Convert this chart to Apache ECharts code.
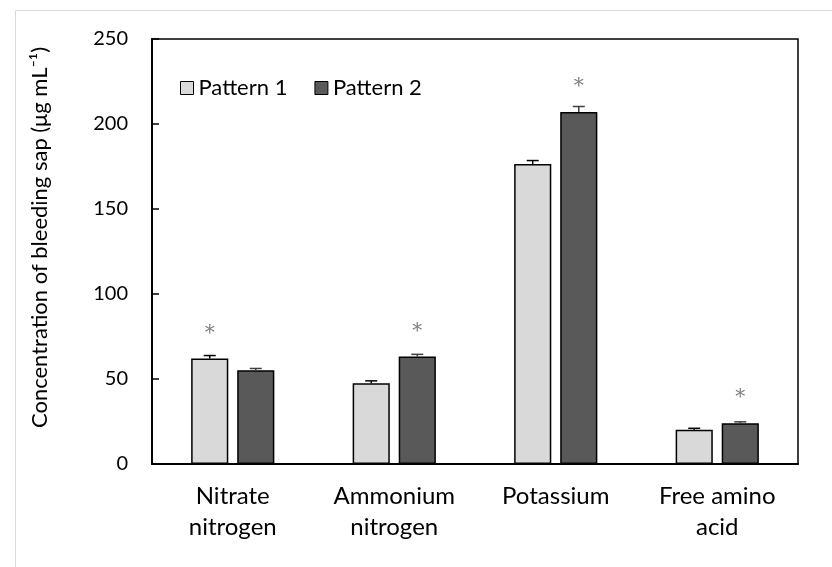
<!DOCTYPE html>
<html><head><meta charset="utf-8">
<script src="https://cdn.jsdelivr.net/npm/echarts@6/dist/echarts.min.js"></script>
<style>html,body{margin:0;padding:0;background:#fff}#c{width:832px;height:567px}</style>
</head><body><div id="c"></div>
<script>
const categories = ['Nitrate\nnitrogen', 'Ammonium\nnitrogen', 'Potassium', 'Free amino\nacid'];
const seriesNames = ['Pattern 1', 'Pattern 2'];
const pattern1 = [62, 47.5, 176.5, 20.2];
const pattern2 = [55.2, 63.2, 207, 24];
const pattern1Err = [1.8, 1.4, 2.0, 0.8];
const pattern2Err = [1.0, 1.3, 3.3, 0.8];
const pattern1Sig = [true, false, false, false];
const pattern2Sig = [false, true, true, true];
const yTicks = {min: 0, max: 250, interval: 50};

const FONT = 'Lato';
const BAR_FRAC = 0.23, GAP_FRAC = 0.24;
const colors = ['#d9d9d9', '#595959'];

function errSeries(vals, errs, idx, color) {
  return {
    type: 'custom',
    name: seriesNames[idx] + ' err',
    z: 5,
    silent: true,
    data: vals.map((v, i) => [i, v, v + errs[i]]),
    renderItem: function (params, api) {
      const cat = api.value(0);
      const c0 = api.coord([cat, api.value(1)]);
      const c1 = api.coord([cat, api.value(2)]);
      const w = api.size([1, 0])[0];
      const off = (w * BAR_FRAC * (1 + GAP_FRAC)) / 2 * (idx === 0 ? -1 : 1);
      const x = c0[0] + off;
      const half = 6;
      return {
        type: 'group',
        children: [
          {type: 'line', shape: {x1: x, y1: c0[1], x2: x, y2: c1[1]}, style: {stroke: color, lineWidth: 1.5}},
          {type: 'line', shape: {x1: x - half, y1: c1[1], x2: x + half, y2: c1[1]}, style: {stroke: color, lineWidth: 1.5}}
        ]
      };
    }
  };
}

function barSeries(vals, sig, idx) {
  return {
    type: 'bar',
    name: seriesNames[idx],
    data: vals,
    barWidth: (BAR_FRAC * 100) + '%',
    barGap: (GAP_FRAC * 100) + '%',
    itemStyle: {color: colors[idx], borderColor: '#000', borderWidth: 1.5},
    label: {
      show: true, position: 'top', distance: 15,
      formatter: p => sig[p.dataIndex] ? '*' : '',
      color: '#808080', fontSize: 20, fontFamily: 'DejaVu Serif'
    }
  };
}

const chart = echarts.init(document.getElementById('c'));
chart.setOption({
  animation: false,
  backgroundColor: '#fff',
  graphic: [{type: 'rect', shape: {x: 15.5, y: 10.5, width: 840, height: 580}, style: {fill: 'none', stroke: '#d9d9d9', lineWidth: 1}, silent: true, z: -10}],
  grid: {left: 152, right: 34, top: 39, bottom: 103, show: true, borderColor: '#000', borderWidth: 1.5, backgroundColor: 'transparent'},
  legend: {
    data: seriesNames, left: 175, top: 72, itemWidth: 13, itemHeight: 13, itemGap: 27,
    icon: 'rect',
    textStyle: {fontFamily: FONT, fontSize: 22, color: '#000'},
    itemStyle: {borderColor: '#000', borderWidth: 1}
  },
  xAxis: {
    type: 'category', data: categories,
    axisLine: {lineStyle: {color: '#000', width: 2}},
    axisTick: {show: false},
    axisLabel: {fontFamily: FONT, fontSize: 24, color: '#000', lineHeight: 31, margin: 17, interval: 0}
  },
  yAxis: {
    type: 'value', min: yTicks.min, max: yTicks.max, interval: yTicks.interval,
    name: 'Concentration of bleeding sap (μg mL⁻¹)',
    nameLocation: 'middle', nameGap: 101,
    nameTextStyle: {fontFamily: FONT, fontSize: 22, color: '#000', padding: [0, 0, 0, 28]},
    axisLine: {show: true, lineStyle: {color: '#000', width: 2}},
    axisTick: {show: true, inside: true, length: 7, lineStyle: {color: '#000', width: 1.5}},
    axisLabel: {fontFamily: FONT, fontSize: 20, color: '#000', margin: 24},
    splitLine: {show: false}
  },
  series: [
    barSeries(pattern1, pattern1Sig, 0),
    barSeries(pattern2, pattern2Sig, 1),
    errSeries(pattern1, pattern1Err, 0, '#000'),
    errSeries(pattern2, pattern2Err, 1, '#404040')
  ]
});
</script></body></html>
